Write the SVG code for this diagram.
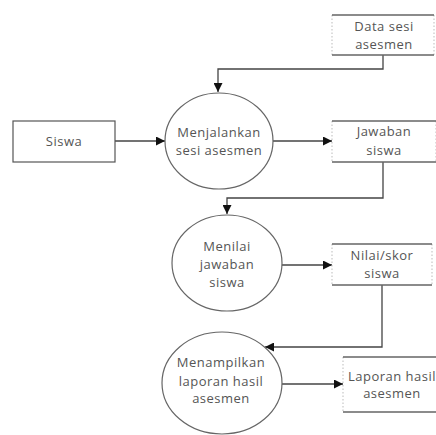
<svg xmlns="http://www.w3.org/2000/svg" width="436" height="435" viewBox="0 0 436 435">
  <defs>
    <marker id="arrow" viewBox="0 0 10 10" refX="10" refY="5" markerWidth="9" markerHeight="9" markerUnits="userSpaceOnUse" orient="auto">
      <path d="M0,0 L10,5 L0,10 z" fill="#111"/>
    </marker>
    <style>
      .lbl { font-family: "Open Sans", "Liberation Sans", sans-serif; font-size: 13px; letter-spacing: 0.5px; fill: #555; text-anchor: middle; }
      .proc { fill: #fff; stroke: #666; stroke-width: 1.2; }
      .ent { fill: #fff; stroke: #555; stroke-width: 1.2; }
      .store-solid { stroke: #666; stroke-width: 1.6; fill: none; }
      .store-dot { stroke: #bbb; stroke-width: 1; stroke-dasharray: 1.5 2; fill: none; }
      .flow { fill: none; stroke: #444; stroke-width: 1.3; }
    </style>
  </defs>
  <rect width="436" height="435" fill="#fff"/>

  <!-- data flows -->
  <g id="connectors">
    <path class="flow" d="M383,55 V69 H218 V92" marker-end="url(#arrow)"/>
    <path class="flow" d="M115,141 H165" marker-end="url(#arrow)"/>
    <path class="flow" d="M273,141 H332" marker-end="url(#arrow)"/>
    <path class="flow" d="M383,162 V198 H227 V214" marker-end="url(#arrow)"/>
    <path class="flow" d="M282,265 H332" marker-end="url(#arrow)"/>
    <path class="flow" d="M382,285 V347 H265" marker-end="url(#arrow)"/>
    <path class="flow" d="M282,384 H343" marker-end="url(#arrow)"/>
  </g>

  <!-- external entity -->
  <g id="siswa">
    <rect class="ent" x="13" y="121" width="102" height="41"/>
    <text class="lbl" x="64" y="146">Siswa</text>
  </g>

  <!-- processes -->
  <g id="proc-menjalankan">
    <ellipse class="proc" cx="219" cy="141" rx="54" ry="48"/>
    <text class="lbl" x="219" y="137">Menjalankan</text>
    <text class="lbl" x="219" y="155">sesi asesmen</text>
  </g>
  <g id="proc-menilai">
    <ellipse class="proc" cx="227" cy="263" rx="55" ry="48"/>
    <text class="lbl" x="227" y="251">Menilai</text>
    <text class="lbl" x="227" y="269">jawaban</text>
    <text class="lbl" x="227" y="287">siswa</text>
  </g>
  <g id="proc-menampilkan">
    <ellipse class="proc" cx="222" cy="383" rx="60" ry="51"/>
    <text class="lbl" x="221" y="367">Menampilkan</text>
    <text class="lbl" x="221" y="386">laporan hasil</text>
    <text class="lbl" x="221" y="403">asesmen</text>
  </g>

  <!-- data stores -->
  <g id="store-data-sesi">
    <path class="store-dot" d="M332,15 V55 M434,15 V55"/>
    <path class="store-solid" d="M332,15 H434 M332,55 H434"/>
    <text class="lbl" x="384" y="31">Data sesi</text>
    <text class="lbl" x="384" y="49">asesmen</text>
  </g>
  <g id="store-jawaban">
    <path class="store-dot" d="M332,121 V162 M436,121 V162"/>
    <path class="store-solid" d="M332,121 H436 M332,162 H436"/>
    <text class="lbl" x="384" y="136">Jawaban</text>
    <text class="lbl" x="384" y="155">siswa</text>
  </g>
  <g id="store-nilai">
    <path class="store-dot" d="M332,244 V285 M432,244 V285"/>
    <path class="store-solid" d="M332,244 H432 M332,285 H432"/>
    <text class="lbl" x="382" y="260">Nilai/skor</text>
    <text class="lbl" x="382" y="278">siswa</text>
  </g>
  <g id="store-laporan">
    <path class="store-dot" d="M343,357 V412"/>
    <path class="store-solid" d="M343,357 H436 M343,412 H436"/>
    <text class="lbl" x="392" y="381">Laporan hasil</text>
    <text class="lbl" x="392" y="398">asesmen</text>
  </g>
</svg>
